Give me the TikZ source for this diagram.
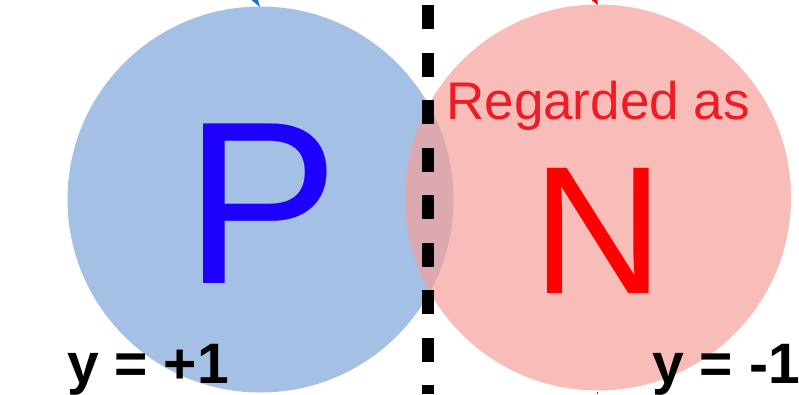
\documentclass[tikz,border=0pt]{standalone}
\usepackage{fontspec}
\setmainfont{Liberation Sans}
\definecolor{bluec}{RGB}{164,192,228}
\definecolor{pinkc}{RGB}{246,159,153}
\definecolor{pblue}{RGB}{30,0,255}
\definecolor{nred}{RGB}{255,0,0}
\definecolor{rred}{RGB}{238,28,37}
\definecolor{tipblue}{RGB}{31,110,190}
\begin{document}
\begin{tikzpicture}[x=1pt,y=-1pt,
  circ/.style={circle,inner sep=0pt,minimum size=386pt},
  lbl/.style={inner sep=0pt,anchor=base},
  yl/.style={lbl,font=\fontsize{57}{57}\selectfont\bfseries,text=black}]
\useasboundingbox (0,0) rectangle (799,394);
\node[circ,fill=bluec] (cp) at (260.5,199.5) {};
\node[circ,fill=pinkc,fill opacity=0.69] (cn) at (598,197.5) {};
\coordinate (dtop) at (428,5);
\coordinate (dbot) at (428,394);
\draw[line width=12pt,dash pattern=on 24pt off 23.5pt] (dtop) -- (dbot);
\node[lbl,font=\fontsize{232}{232}\selectfont,text=pblue] (P) at (262,283) {P};
\node[lbl,font=\fontsize{182}{182}\selectfont,text=nred] (N) at (598,293) {N};
\node[lbl,font=\fontsize{53}{53}\selectfont,text=rred] (rg) at (598,119) {Regarded as};
\node[yl,anchor=base west] (yp) at (67,383) {y = +1};
\node[yl,anchor=base east] (yn) at (800,383) {y = -1};
\fill[tipblue] (251.5,0) -- (258,0) -- (260,7) -- cycle;
\fill[nred] (591.5,0) -- (597,0) -- (598,5) -- cycle;
\fill[nred] (596.5,391.5) rectangle (598,394);
\end{tikzpicture}
\end{document}
